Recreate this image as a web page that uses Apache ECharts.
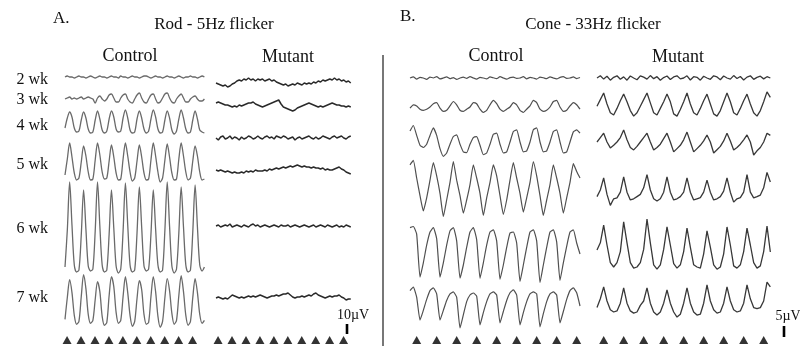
<!DOCTYPE html>
<html><head><meta charset="utf-8">
<script src="https://cdn.jsdelivr.net/npm/echarts@6/dist/echarts.min.js"></script>
<style>html,body{margin:0;padding:0;background:#fff}#c{width:800px;height:350px}</style>
</head><body><div id="c"></div>
<script>
const weekLabels = ['2 wk','3 wk','4 wk','5 wk','6 wk','7 wk'];
const rodDt = 200/6;      // ms per sample, rod 5 Hz flicker
const coneDt = 5;         // ms per sample, cone 33 Hz flicker
const rodStim = [30,230,430,630,830,1030,1230,1430,1630,1830];   // flash times, ms
const coneStim = [10,40,70,100,130,160,190,220,250];             // flash times, ms
const rodScaleUV = [0,10];
const coneScaleUV = [0,5];

// Rod - control
const rodCtrl2wk = [0,1,0,0,-1,0,1,0,0,-1,0,1,0,-1,0,1,0,0,-1,0,1,0,0,-1,1,0,0,-1,0,1,0,0,-1,0,1,1,0,-1,0,1,0,0,-1,0,1,0,0,-1,0,1,0,-1,0,0,1,0,0,-1,0,1,0];
const rodCtrl3wk = [0,1,2,0,1,0, 1,2,0,1,2,1, 0,-4,1,3,0,-2, 0,4,5,1,-3,-3, 1,4,5,0,-3,-4, 0,4,6,1,-3,-4, 0,4,5,0,-4,-3, 1,5,6,1,-3,-4, 0,3,5,1,-3,-3, 0,2,3,0,-2,-2, 0];
const rodCtrl4wk = [-6,4,10,5,-6,-10, -9,2,10,4,-7,-11, -10,2,11,3,-8,-11, -9,3,11,5,-7,-10, -9,4,12,4,-8,-11, -10,3,11,4,-7,-11, -9,3,12,5,-7,-11, -10,2,11,4,-8,-12, -9,3,12,4,-7,-11, -10,2,11,3,-8,-10, -11];
const rodCtrl5wk = [-13,3,19,5,-11,-18, -16,0,16,6,-10,-18, -17,2,19,7,-10,-17, -16,1,17,5,-11,-18, -17,3,19,6,-10,-19, -16,1,17,5,-11,-18, -17,2,19,6,-10,-20, -16,2,18,5,-11,-18, -17,3,19,6,-10,-18, -16,1,16,6,-10,-18, -17];
const rodCtrl6wk = [-40,-3,45,2,-38,-45, -43,-8,37,-2,-39,-44, -42,-4,45,1,-38,-45, -43,-7,37,-1,-39,-46, -42,-4,44,2,-38,-45, -43,-6,40,0,-39,-44, -42,-7,37,-2,-38,-45, -43,-3,45,1,-39,-46, -42,-6,40,0,-38,-45, -43,-5,42,0,-38,-44, -40];
const rodCtrl7wk = [-19,3,21,8,-15,-24, -21,4,26,12,-14,-23, -20,1,19,9,-16,-25, -22,5,24,14,-12,-23, -20,4,24,8,-15,-26, -21,2,20,11,-14,-24, -22,4,24,9,-16,-27, -21,3,22,10,-13,-24, -20,5,25,9,-15,-25, -21,3,22,8,-14,-23, -20];

// Rod - mutant
const rodMut2wk = [0,-1,-2,-3,-2,-4,-3,-1,0,2, 3,2,4,3,5,3,4,2,4,3, 4,2,3,4,2,3,1,0,-1,-2, -1,-3,-2,-1,-2,0,-1,-2,0,-1, 0,-1,1,0,2,1,3,2,3,4, 3,5,3,4,2,3,1,2,0];
const rodMut3wk = [2,3,2,1,0,0,-1,-2,-1,-2, 0,-1,0,1,2,2,3,1,0,-1, -2,-1,0,1,2,3,4,5,1,-2, -3,-4,-5,-6,-5,-3,-2,-1,0,1, 2,1,0,-1,-2,-1,-2,-1,0,1, 2,1,0,0,-1,-1,-2,-1,-2];
const rodMut4wk = [0,-2,1,2,-1,0,2,-1,1,0, -2,1,-1,0,2,1,-1,0,2,0, -1,1,2,0,1,-1,2,1,0,2, 1,-1,0,1,-2,0,1,-1,0,1, 2,0,-1,1,-1,0,2,1,0,-1, 1,2,0,1,2,0,-1,1,2];
const rodMut5wk = [0,-1,0,-1,-2,-1,-2,-3,-2,-3, -3,-2,-3,-1,-2,-1,-2,0,-1,-1, -1,0,-1,1,0,1,2,1,2,3, 2,3,4,3,4,5,4,3,4,3, 3,2,3,2,2,1,2,0,1,0, 0,1,2,3,1,0,-2,-3,-4];
const rodMut6wk = [0,1,-1,0,1,0,2,-1,0,1, 0,-1,1,0,-1,1,2,0,1,-1, 0,1,0,-1,0,1,0,-1,1,0, 0,1,-1,0,1,0,-1,0,1,0, -1,0,1,-1,0,1,0,-1,1,0, -1,0,1,-1,0,-1,1,0,-1];
const rodMut7wk = [-1,0,-1,-2,-1,-2,0,2,1,0, -1,0,-1,0,1,0,1,0,1,2, 1,0,-1,0,1,1,2,1,2,3, 3,4,2,0,-1,0,0,1,0,1, 2,1,3,4,2,1,0,-1,0,1, 0,1,1,2,0,-1,-3,-2,-2];

// Cone - control
const coneCtrl2wk = [0,0.5,-0.5,0.3,0,-0.6,0.4,0,0.6,-0.4,0,0.5,-0.3,0.2,-0.6,0,0.4,-0.2,0.6,0,-0.5,0.3,0,-0.4,0.5,0.1,-0.3,0.6,0,-0.5,0.2,0.4,-0.2,0,0.6,-0.4,0.3,0,-0.5,0.4,0.1,-0.3,0.5,0,-0.4,0.3,0.6,-0.2,0,0.5,-0.3,0.2];
const coneCtrl3wk = [-0.5,1,0.5,-1,-1.5,-1, 0,1.5,2,-0.5,-2,-1.5, 0.5,2.5,1,-1.5,-2,-1, 0,2,1.5,-1,-2.5,-1.5, 1,3,1.5,-1,-2,-1, 0,2,1,-1.5,-2.5,-1, 0.5,3,2,-1,-2,-1.5, 0,2.5,3,0,-2,-1.5, 0.5,2,1,-1];
const coneCtrl4wk = [5,7.5,3,-1.5,-2.5,-1, 3,6.4,3,-3,-6.5,-5, -1,2.5,3.2,-1,-4.5,-4.8, -1,2,2.4,-1.5,-5.8,-5, -1,3.5,4,-1,-5,-4.5, 0,4.8,5.5,0,-4.5,-4, 0,5.6,6.4,0,-4.5,-4, 0,4.8,5.5,0,-5,-4.5, 0,4.6,5.5,4];
const coneCtrl5wk = [11,13,5,-3,-10,-4, 4,12,6,-2,-12.5,-5, 3,12.5,4,-3,-11,-5, 2,11,5,-2,-12,-4, 3,11,6,-3,-11.5,-5, 4,12,5,-2,-10.5,-4, 3,12.5,6,-3,-12,-5, 2,11,5,-2,-11,-4, 3,11.5,8,5];
const coneCtrl6wk = [12,12.5,9,-10.5,-4,4, 10,12,7,-10.5,-4,4, 10.5,12,6,-11,-5,3, 10,12,6.5,-11,-4,4, 10,11,6,-11.5,-5,3, 9.5,10,5,-12.5,-5,3, 10,11,6,-13,-5,3, 10,11,5.5,-12,-4,3.5, 10,11,5,0];
const coneCtrl7wk = [7,8.6,4,-6.4,-2,3, 7,8.2,5.5,-6.4,-2,2.5, 5.5,6.4,4,-10,-4,2, 5,5.9,4.5,-8.6,-3,2, 5.5,6.4,5,-7.7,-2.5,2.5, 6,7.3,5,-8.6,-3,2, 5.5,6.4,5.5,-9.5,-3.5,2, 5.5,6.4,5,-7.7,-2.5,3, 7,8.2,6,0];

// Cone - mutant
const coneMut2wk = [0,1,-0.5,0.8,-1,0.3,1,-0.6,0.5,-1,0.9,0,-0.8,1,0.4,-0.5,1.1,-0.3,0.6,-1,0.2,0.9,-0.7,0.5,1,-0.4,0,1,-0.9,0.6,0.3,-1,0.8,0,-0.6,1,0.5,-0.8,0.9,0,-0.5,1.1,-0.2,0.7,-0.9,0.4,1,-0.6,0.3,0.8,-0.4,0.6,0];
const coneMut3wk = [-1,2,5,0,-4,-5,-2,1.5,4.5,1,-3,-5.5,-4,-1,2,5,0.5,-4,-5,-2,1,4.5,1,-4.5,-5.5,-2.5,1,5,0,-4,-5,-2,1.5,4.5,0,-4.5,-5.5,-3,1,5,1,-4,-5,-2,1.5,4.5,0,-4,-5.5,-3,1,5.5,3];
const coneMut4wk = [0,2,4,0,-2.7,-1.5,0,2,5.5,1,-2.5,-3.6,-2,0,2,4,0,-3.6,-2.5,-1,1.5,4,0,-4.5,-3,-1.5,1,4.5,0,-4.5,-3,-1.5,0.5,3.2,0,-5,-3.5,-2,0.5,4,0.5,-3.6,-2.5,-1,1,3.2,0,-5.9,-4,-2.5,0,4,3];
const coneMut5wk = [-3,0,5.5,-2,-7,-4,-3.6,-1,6,-1,-4.5,-4,-3,-2,1,7,0,-4,-5,-4,-1,6,-1,-4.5,-4,-3,-1,5.5,-1,-4.5,-4,-3.5,-1,4.5,-1,-4.5,-4,-3,-0.5,5.5,-1,-5.5,-4,-3.5,-1,7,-1,-3.6,-3,-2.3,1,8,3.6];
const coneMut6wk = [-2.3,1,9,0,-8,-10,-8,-3,10.5,1,-8,-10.5,-10,-8,-2,11.8,1,-9,-11,-9,-2,8.2,0,-8.5,-10.5,-9,-3,7.7,-1,-9,-10,-10.5,-4,6.4,-1,-9,-11,-10,-4,8.2,0,-9.5,-10.5,-9,-3,7.7,0,-8,-10.5,-9.5,-3,8.6,-3.2];
const coneMut7wk = [-3,1,6.4,0,-4,-5,-4.5,-1,6,-1,-4.5,-5.5,-5,-2,0,6,-1,-5,-6.4,-5,-1,5,-1,-5,-7.3,-6,-1,6,-1,-5,-6.4,-6,-1,7.3,0,-4,-5.5,-5,-1,6.4,0,-4,-5,-4.5,-1,7.3,1,-3,-3.5,-3,0,8.6,6.4];

// ---------- LAYOUT ----------
const columns = [
  {left:65,  xMax:2010, pxPerMs:0.0697, dt:rodDt,  pxPerUV:1,   range:50, color:'#6a6a6a', width:1.3, smooth:0.3, stim:rodStim,
   traces:[rodCtrl2wk,rodCtrl3wk,rodCtrl4wk,rodCtrl5wk,rodCtrl6wk,rodCtrl7wk], centers:[77,99,122,162,227,301]},
  {left:216, xMax:2010, pxPerMs:0.0697, dt:rodDt,  pxPerUV:1,   range:50, color:'#2a2a2a', width:1.5, smooth:0, stim:rodStim,
   traces:[rodMut2wk,rodMut3wk,rodMut4wk,rodMut5wk,rodMut6wk,rodMut7wk], centers:[83,105,138,170,226,297]},
  {left:410, xMax:255,  pxPerMs:0.6667, dt:coneDt, pxPerUV:2.2, range:16, color:'#505050', width:1.2, smooth:0.15, stim:coneStim,
   traces:[coneCtrl2wk,coneCtrl3wk,coneCtrl4wk,coneCtrl5wk,coneCtrl6wk,coneCtrl7wk], centers:[78,107,142,189,254,306]},
  {left:597, xMax:260,  pxPerMs:0.6667, dt:coneDt, pxPerUV:2.2, range:16, color:'#383838', width:1.3, smooth:0, stim:coneStim,
   traces:[coneMut2wk,coneMut3wk,coneMut4wk,coneMut5wk,coneMut6wk,coneMut7wk], centers:[78,104,142,190,245,301]}
];

const grid=[], xAxis=[], yAxis=[], series=[];
function addGrid(left,width,top,height,xmin,xmax,ymin,ymax){
  const i=grid.length;
  grid.push({left:left,top:top,width:width,height:height,containLabel:false,show:false});
  xAxis.push({type:'value',gridIndex:i,min:xmin,max:xmax,show:false});
  yAxis.push({type:'value',gridIndex:i,min:ymin,max:ymax,show:false});
  return i;
}
columns.forEach(function(col){
  const w = col.xMax*col.pxPerMs;
  col.traces.forEach(function(vals,r){
    const h = 2*col.range*col.pxPerUV;
    const gi = addGrid(col.left, w, col.centers[r]-h/2, h, 0, col.xMax, -col.range, col.range);
    series.push({type:'line', xAxisIndex:gi, yAxisIndex:gi, clip:false, silent:true,
      symbol:'none', showSymbol:false, animation:false, smooth:col.smooth,
      lineStyle:{width:col.width, color:col.color},
      data: vals.map(function(v,i){return [i*col.dt, v];})});
  });
  const tg = addGrid(col.left, w, 333, 14, 0, col.xMax, -1, 1);
  series.push({type:'scatter', xAxisIndex:tg, yAxisIndex:tg, silent:true, animation:false,
    symbol:'triangle', symbolSize:[9,8], itemStyle:{color:'#000'},
    data: col.stim.map(function(t){return [t,0];})});
});
// scale bars
[[344,324,1,rodScaleUV],[781,326,2.2,coneScaleUV]].forEach(function(s){
  const h=(s[3][1]-s[3][0])*s[2];
  const gi = addGrid(s[0],6,s[1],h,0,1,s[3][0],s[3][1]);
  series.push({type:'line', xAxisIndex:gi, yAxisIndex:gi, clip:false, silent:true, symbol:'none', animation:false,
    lineStyle:{width:2.6,color:'#000'}, data:s[3].map(function(v){return [0.5,v];})});
});

const serif = '"Liberation Serif","DejaVu Serif",serif';
function txt(x,y,t,size,align){
  return {type:'text', silent:true, style:{x:x,y:y,text:t,font:size+'px '+serif,fill:'#111',align:align||'center',verticalAlign:'middle'}};
}
const graphic = [
  txt(53,19,'A.',17,'left'),
  txt(214,25,'Rod - 5Hz flicker',17),
  txt(130,56,'Control',18),
  txt(288,57,'Mutant',18),
  txt(400,17,'B.',17,'left'),
  txt(593,25,'Cone - 33Hz flicker',17),
  txt(496,56,'Control',18),
  txt(678,57,'Mutant',18),
  txt(353,315,'10µV',14),
  txt(788,316,'5µV',14),
  {type:'line', silent:true, shape:{x1:383,y1:55,x2:383,y2:346}, style:{stroke:'#555',lineWidth:1.6}}
];
const labelY=[80,100,126,165,229,298];
weekLabels.forEach(function(l,i){ graphic.push(txt(48,labelY[i],l,16,'right')); });

const chart = echarts.init(document.getElementById('c'), null, {renderer:'canvas'});
chart.setOption({animation:false, backgroundColor:'#fff', grid:grid, xAxis:xAxis, yAxis:yAxis, series:series, graphic:graphic});
</script>
</body></html>
